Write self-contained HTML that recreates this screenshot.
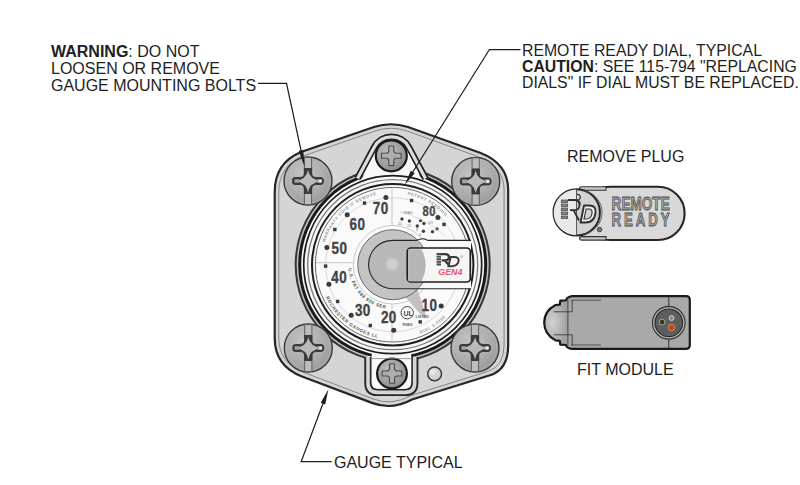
<!DOCTYPE html>
<html><head><meta charset="utf-8">
<style>
html,body{margin:0;padding:0;background:#fff;width:800px;height:485px;overflow:hidden}
svg{display:block}
text{font-family:"Liberation Sans",sans-serif}
</style></head><body>
<svg width="800" height="485" viewBox="0 0 800 485">
<defs>
 <radialGradient id="gScrew" cx="0.4" cy="0.35" r="0.7">
  <stop offset="0" stop-color="#c4c4c4"/><stop offset="0.6" stop-color="#adadad"/><stop offset="1" stop-color="#979797"/>
 </radialGradient>
 <radialGradient id="gSmall" cx="0.4" cy="0.35" r="0.7">
  <stop offset="0" stop-color="#c0c0c0"/><stop offset="1" stop-color="#8a8a8a"/>
 </radialGradient>
 <radialGradient id="gNose" cx="0.35" cy="0.5" r="0.6">
  <stop offset="0" stop-color="#d2d2d2"/><stop offset="1" stop-color="#a2a2a2"/>
 </radialGradient>
 <g id="cross">
  <path d="M-3.6,-23.6 L3.6,-23.6 L3.6,23.6 L-3.6,23.6 Z" fill="#bdbdbd" stroke="#4a4a4a" stroke-width="0.8"/>
  <path d="M-3.6,-12.5 L-3.6,-8 Q-3.6,-3.5 -8.5,-3.5 L-13,-3.5 Q-15.4,-3.5 -15.4,-1.5 L-15.4,1.5 Q-15.4,3.5 -13,3.5 L-8.5,3.5 Q-3.6,3.5 -3.6,8 L-3.6,12.5 L3.6,12.5 L3.6,8 Q3.6,3.5 8.5,3.5 L13,3.5 Q15.5,3.5 15.5,0 Q15.5,-3.5 13,-3.5 L8.5,-3.5 Q3.6,-3.5 3.6,-8 L3.6,-12.5 Z" fill="#3a3a3a" stroke="#333" stroke-width="0.9" stroke-linejoin="round"/>
  <path d="M0,-11 Q1.4,-1.4 13.5,0 Q1.4,1.4 0,11.5 Q-1.4,1.4 -13.2,0 Q-1.4,-1.4 0,-11 Z" fill="#bababa"/>
  <path d="M-13.6,-1.8 L-9,-1.8 L-9,1.8 L-13.6,1.8 Z M9,-1.8 L13.8,-1.8 L13.8,1.8 L9,1.8 Z" fill="#a4a4a4"/>
  <circle cx="12.2" cy="0" r="1.6" fill="#f0f0f0"/>
 </g>
 <g id="scross">
  <path d="M-2.5,-9.8 L2.5,-9.8 L2.5,-5.2 Q2.5,-2.5 5.2,-2.5 L9.8,-2.5 L9.8,2.5 L5.2,2.5 Q2.5,2.5 2.5,5.2 L2.5,9.8 L-2.5,9.8 L-2.5,5.2 Q-2.5,2.5 -5.2,2.5 L-9.8,2.5 L-9.8,-2.5 L-5.2,-2.5 Q-2.5,-2.5 -2.5,-5.2 Z" fill="#adadad" stroke="#4a4a4a" stroke-width="1.1" stroke-linejoin="round"/>
 </g>
</defs>

<g font-size="16" fill="#1e1e1e">
 <text x="51" y="57.3"><tspan font-weight="bold">WARNING</tspan>: DO NOT</text>
 <text x="51" y="74.1">LOOSEN OR REMOVE</text>
 <text x="51" y="90.8">GAUGE MOUNTING BOLTS</text>
 <text font-size="15.8" x="522" y="55.6">REMOTE READY DIAL, TYPICAL</text>
 <text font-size="15.8" x="522" y="72.1"><tspan font-weight="bold">CAUTION</tspan>: SEE 115-794 "REPLACING</text>
 <text font-size="15.8" x="522" y="88.4">DIALS" IF DIAL MUST BE REPLACED.</text>
 <text x="567" y="161.9">REMOVE PLUG</text>
 <text x="577" y="375.4">FIT MODULE</text>
 <text x="334" y="468">GAUGE TYPICAL</text>
</g>

<path d="M274.7,192 Q274.7,163 301,152 L374,127 Q391,121.5 408,127 L480,152.8 Q508.2,163.5 508.2,190 L508.2,345 Q508.2,369.7 490,375.3 L412,399.5 Q392,410.5 372,402.9 L302,376.5 Q274.7,366 274.7,338 Z" fill="#d5d5d5" stroke="#262626" stroke-width="2.2"/>
<path d="M278.8,192 Q278.8,166 303,156 L375,131 Q391,125.5 407,131 L478,156.6 Q504.1,166.5 504.1,190 L504.1,345 Q504.1,366 488,371.4 L411,395.5 Q392,406.3 373,398.9 L304,372.5 Q278.8,363 278.8,338 Z" fill="none" stroke="#7a7a7a" stroke-width="0.9"/>
<circle cx="392.7" cy="264.7" r="97" fill="#c2c2c2" stroke="#363636" stroke-width="2"/>
<path d="M357.50,178.50 L374.22,147.25 A19.6,19.6 0 0 1 408.78,147.25 L425.50,178.50 Z" fill="#f8f8f8" stroke="none"/>
<path d="M368,356 L368,383 Q368,392.4 377.5,392.4 L405,392.4 Q414.7,392.4 414.7,383 L414.7,356 Z" fill="#f8f8f8" stroke="none"/>
<circle cx="392.7" cy="264.7" r="93" fill="#f7f7f7" stroke="#1a1a1a" stroke-width="3"/>
<path d="M357.50,178.50 L374.22,147.25 A19.6,19.6 0 0 1 408.78,147.25 L425.50,178.50" fill="none" stroke="#222" stroke-width="6.8" stroke-linejoin="round"/>
<path d="M357.50,178.50 L374.22,147.25 A19.6,19.6 0 0 1 408.78,147.25 L425.50,178.50" fill="none" stroke="#dedede" stroke-width="3.2" stroke-linejoin="round"/>
<path d="M361.00,180.00 L376.91,149.01 A16.4,16.4 0 0 1 406.09,149.01 L422.00,180.00 Z" fill="#f8f8f8" stroke="none"/>
<path d="M368,357 L368,383 Q368,392.4 377.5,392.4 L405,392.4 Q414.7,392.4 414.7,383 L414.7,357" fill="none" stroke="#262626" stroke-width="7.4" />
<path d="M368,357 L368,383 Q368,392.4 377.5,392.4 L405,392.4 Q414.7,392.4 414.7,383 L414.7,357" fill="none" stroke="#d6d6d6" stroke-width="3.6" />
<path d="M371.7,354 L371.7,382 Q371.7,388.7 378.5,388.7 L404.5,388.7 Q411.3,388.7 411.3,382 L411.3,354 Z" fill="#f8f8f8" stroke="none"/>
<circle cx="392.7" cy="264.7" r="89" fill="#f7f7f7" stroke="#1e1e1e" stroke-width="1.7"/>
<circle cx="392.7" cy="264.7" r="85" fill="none" stroke="#7a7a7a" stroke-width="1.3"/>
<circle cx="392.7" cy="264.7" r="80.7" fill="none" stroke="#1e1e1e" stroke-width="2"/>
<circle cx="392.7" cy="264.7" r="77.3" fill="#fafafa" stroke="#666" stroke-width="1"/>
<g transform="translate(391.3,155.8)"><circle r="15.5" fill="url(#gSmall)" stroke="#1a1a1a" stroke-width="2.2"/><use href="#scross"/></g>
<g transform="translate(392.0,373.5)"><circle r="14.9" fill="url(#gSmall)" stroke="#1a1a1a" stroke-width="2.2"/><use href="#scross"/></g>
<line x1="372" y1="358.6" x2="411" y2="358.6" stroke="#888" stroke-width="0.8"/>
<circle cx="434.6" cy="373.8" r="6.9" fill="#d4d4d4" stroke="#3a3a3a" stroke-width="1.5"/>
<circle cx="433" cy="372" r="3" fill="#e6e6e6"/>
<g transform="translate(308.0,181.0)"><circle r="24" fill="url(#gScrew)" stroke="#3a3a3a" stroke-width="1.4"/><circle r="22" fill="none" stroke="#bdbdbd" stroke-width="0.8" opacity="0.6"/><use href="#cross"/></g>
<g transform="translate(475.7,181.4)"><circle r="24" fill="url(#gScrew)" stroke="#3a3a3a" stroke-width="1.4"/><circle r="22" fill="none" stroke="#bdbdbd" stroke-width="0.8" opacity="0.6"/><use href="#cross"/></g>
<g transform="translate(308.3,348.0)"><circle r="24" fill="url(#gScrew)" stroke="#3a3a3a" stroke-width="1.4"/><circle r="22" fill="none" stroke="#bdbdbd" stroke-width="0.8" opacity="0.6"/><use href="#cross"/></g>
<g transform="translate(475.0,348.0)"><circle r="24" fill="url(#gScrew)" stroke="#3a3a3a" stroke-width="1.4"/><circle r="22" fill="none" stroke="#bdbdbd" stroke-width="0.8" opacity="0.6"/><use href="#cross"/></g>
<line x1="316" y1="262.7" x2="470" y2="262.7" stroke="#b0b0b0" stroke-width="0.7"/>
<line x1="392" y1="188" x2="392" y2="341" stroke="#b0b0b0" stroke-width="0.7"/>
<circle cx="392.7" cy="264.7" r="67" fill="none" stroke="#c8c8c8" stroke-width="0.7"/>
<circle cx="392.7" cy="264.7" r="39.3" fill="#fbfbfb" stroke="#bdbdbd" stroke-width="0.8"/>
<path d="M410,240.4 L471,240.4 L471,288.7 L410,288.7 Z" fill="#f8f8f8" stroke="none"/>
<path d="M405,296.5 L417.5,289.5 L426.5,316.5 L423.5,318 Z" fill="#c2c2c2"/>
<circle cx="392.7" cy="264.7" r="35" fill="#c4c4c4" stroke="#4a4a4a" stroke-width="0.8"/>
<path d="M392.7,240.4 A24.15,24.15 0 0 0 392.7,288.7 L419,288.7 L419,240.4 Z" fill="#b8b8b8"/>
<path d="M392.7,240.4 A24.15,24.15 0 0 0 392.7,288.7 L471,288.7 M392.7,240.4 L416,240.4 Q420,238.6 424,238.8 L428,240.4 L471,240.4" fill="none" stroke="#262626" stroke-width="1.1"/>
<circle cx="392.2" cy="264.2" r="6.5" fill="#c9c9c9"/>
<circle cx="392.2" cy="264.2" r="3" fill="#d2d2d2"/>
<rect x="407.3" y="248" width="63" height="34" rx="3.5" fill="#f6f6f6" stroke="#1e1e1e" stroke-width="1.7"/>
<path d="M408.2,249.2 L421.5,249.2 A35,35 0 0 1 421.5,281.3 L408.2,281.3 Z" fill="#b5b5b5"/>
<g fill="#4a4a4a"><rect x="436.6" y="253" width="4.4" height="2"/><rect x="436.6" y="255.6" width="4.4" height="2"/><rect x="436.6" y="258.2" width="4.4" height="2"/><rect x="436.6" y="260.8" width="4.4" height="2"/><rect x="436.6" y="263.4" width="4.4" height="2.1"/></g>
<path d="M441,254.1 L445.2,254.1 Q449,254.1 449,257.3 Q449,260.3 445.2,260.3 L441.6,260.3 M444.5,260.3 L449.3,265.5" fill="none" stroke="#3a3a3a" stroke-width="2.3"/>
<path d="M450.6,257 L454,257 Q459.5,257 458.5,261.5 Q457.3,266.2 451.5,266.2 L448.5,266.2 Z" fill="none" stroke="#3a3a3a" stroke-width="2"/>
<circle cx="461.7" cy="256.6" r="1.5" fill="#c8c8c8"/>
<text x="438.3" y="275.3" font-size="8.9" font-weight="bold" font-style="italic" fill="#e0586a">GEN4</text>
<text x="0" y="0" font-size="16" font-weight="bold" fill="#444" stroke="#444" stroke-width="0.35" letter-spacing="0.6" transform="translate(372.7,213.9) scale(0.84,1)">70</text>
<text x="0" y="0" font-size="16" font-weight="bold" fill="#444" stroke="#444" stroke-width="0.35" letter-spacing="0.6" transform="translate(349.6,229.5) scale(0.84,1)">60</text>
<text x="0" y="0" font-size="16" font-weight="bold" fill="#444" stroke="#444" stroke-width="0.35" letter-spacing="0.6" transform="translate(331.5,253.5) scale(0.84,1)">50</text>
<text x="0" y="0" font-size="16" font-weight="bold" fill="#444" stroke="#444" stroke-width="0.35" letter-spacing="0.6" transform="translate(331.3,282.8) scale(0.84,1)">40</text>
<text x="0" y="0" font-size="16" font-weight="bold" fill="#444" stroke="#444" stroke-width="0.35" letter-spacing="0.6" transform="translate(354.9,316.3) scale(0.84,1)">30</text>
<text x="0" y="0" font-size="16" font-weight="bold" fill="#444" stroke="#444" stroke-width="0.35" letter-spacing="0.6" transform="translate(380.9,323.4) scale(0.84,1)">20</text>
<text x="0" y="0" font-size="16" font-weight="bold" fill="#444" stroke="#444" stroke-width="0.35" letter-spacing="0.6" transform="translate(421.6,311.0) scale(0.84,1)">10</text>
<text x="0" y="0" font-size="14" font-weight="bold" fill="#4a4a4a" stroke="#4a4a4a" stroke-width="0.35" letter-spacing="0.6" transform="translate(422.5,216.4) scale(0.8,1)">80</text>
<g fill="#3a3a3a"><circle cx="385.9" cy="197.4" r="2.5"/><circle cx="347.2" cy="214.7" r="2.5"/><circle cx="326.9" cy="247.4" r="2.5"/><circle cx="328.9" cy="284.3" r="2.5"/><circle cx="351.2" cy="315.3" r="2.5"/><circle cx="393.7" cy="330.3" r="2.5"/><circle cx="437.9" cy="217.5" r="2.5"/><circle cx="441.2" cy="305.9" r="2.5"/></g>
<g fill="#3a3a3a"><rect x="362.8" y="201.4" width="3.4" height="3.4"/><rect x="333.1" y="227.8" width="3.4" height="3.4"/><rect x="323.90000000000003" y="264.40000000000003" width="3.4" height="3.4"/><rect x="335.90000000000003" y="299.7" width="3.4" height="3.4"/><rect x="368.6" y="323.8" width="3.4" height="3.4"/><rect x="409.90000000000003" y="198.8" width="3.4" height="3.4"/><rect x="442.3" y="222.70000000000002" width="3.4" height="3.4"/><rect x="418.5" y="320.2" width="3.4" height="3.4"/></g>
<defs><path id="tp1" d="M324.70,242.61 A71.5,71.5 0 0 1 375.40,195.32"/><path id="tp2" d="M325.74,297.36 A74.5,74.5 0 0 0 379.76,338.07"/><path id="tp3" d="M348.37,268.58 A44.5,44.5 0 0 0 384.97,308.52"/><path id="tp4" d="M407.57,194.76 A71.5,71.5 0 0 1 455.83,231.13"/><path id="tp5" d="M420.61,333.78 A74.5,74.5 0 0 0 448.06,314.55"/></defs>
<g font-size="4.2" font-weight="bold" fill="#999" letter-spacing="0.6"><text><textPath href="#tp1">WARRANTY VOID IF REMOVED</textPath></text><text fill="#555" font-size="4.6"><textPath href="#tp2">ROCHESTER GAUGES LLC</textPath></text><text fill="#555" font-size="4.6"><textPath href="#tp3">U.S. PAT 888 990 SER 55</textPath></text><text><textPath href="#tp4">PATENT PENDING</textPath></text><text><textPath href="#tp5">DIAL 3-3388</textPath></text></g>
<g fill="#404040"><circle cx="402" cy="219" r="1.7"/><circle cx="409.4" cy="221" r="1.7"/><circle cx="420.6" cy="220.6" r="1.7"/><circle cx="423.9" cy="223.5" r="1.7"/><circle cx="417.3" cy="226" r="1.7"/><circle cx="423.4" cy="231.3" r="1.7"/><circle cx="432.5" cy="231.7" r="1.7"/><circle cx="437" cy="228.9" r="1.7"/></g>
<g font-size="3.6" fill="#777"><text x="403" y="213.5">SEAS</text><text x="398" y="225">25</text><text x="407" y="227">12</text><text x="416" y="231">8</text><text x="419" y="236">4</text><text x="428" y="224">4/1</text></g>
<path d="M400,212 Q420,216 446,236" fill="none" stroke="#c8c8c8" stroke-width="0.6"/>
<circle cx="407.2" cy="312.7" r="6.2" fill="none" stroke="#444" stroke-width="1"/>
<text x="403.5" y="316" font-size="7" fill="#444" font-weight="bold">UL</text>
<text x="415.5" y="318" font-size="3.8" fill="#666" font-weight="bold">LISTED</text>
<text x="402.5" y="325.5" font-size="3.8" fill="#666" font-weight="bold">R9BS</text>
<g stroke="#1e1e1e" stroke-width="1.25" fill="none">
<polyline points="258.00,83.40 286.50,83.40 303.33,161.14"/>
<polyline points="520.50,49.50 489.40,49.50 407.98,179.71"/>
<polyline points="331.60,461.60 301.20,461.60 326.29,394.82"/>
</g>
<path d="M304.60,167.00 L298.75,150.87 L303.25,149.90 Z" fill="#1e1e1e"/>
<path d="M404.80,184.80 L410.80,170.86 L414.70,173.30 Z" fill="#1e1e1e"/>
<path d="M328.40,389.20 L325.20,404.55 L320.70,402.87 Z" fill="#1e1e1e"/>
<g id="plug">
 <path d="M610,186.8 L658,186.8 A26.6,26.6 0 0 1 658,240 L610,240 A26.6,26.6 0 0 1 610,186.8 Z" fill="#d9d9d9" stroke="#262626" stroke-width="2.1"/>
 <rect x="581" y="188" width="30" height="51" fill="#d9d9d9"/>
 <path d="M582,186.8 L606,186.8 L606,190.3 L582,190.3 Q579.5,190.3 579.5,188.5 Q579.5,186.8 582,186.8 Z" fill="#c9c9c9" stroke="#333" stroke-width="1.1"/>
 <path d="M582,236.6 L606,236.6 L606,240.1 L582,240.1 Q579.5,240.1 579.5,238.3 Q579.5,236.6 582,236.6 Z" fill="#c9c9c9" stroke="#333" stroke-width="1.1"/>
 <circle cx="576.7" cy="212.4" r="23.2" fill="#d2d2d2" stroke="#262626" stroke-width="2"/>
 <path d="M576.5,189.6 A22.6,22.6 0 0 0 576.5,235.2 Z" fill="#e9e9e9"/>
 <path d="M583,190.6 A22,22 0 0 1 583,234.2" fill="none" stroke="#555" stroke-width="0.9"/>
 <line x1="576.5" y1="189.5" x2="576.5" y2="235.3" stroke="#4a4a4a" stroke-width="0.9"/>
 <g fill="#888" stroke="#333" stroke-width="0.6">
  <rect x="561.3" y="200" width="6.4" height="2.6"/><rect x="561.3" y="204" width="6.4" height="2.6"/>
  <rect x="561.3" y="208" width="6.4" height="2.6"/><rect x="561.3" y="212" width="6.4" height="2.6"/>
  <rect x="561.3" y="216" width="6.4" height="2.6"/>
 </g>
 <path d="M568,200 L574.5,200 Q579.5,200 579.5,205 Q579.5,209.8 575,210.2 L570,210.2 M573.5,210.2 L579,220.5" fill="none" stroke="#2e2e2e" stroke-width="1.8" stroke-linejoin="round"/>
 <path d="M576.5,194.5 Q580.5,194 580.3,197.5 Q580,200 577,200.3 Q580.5,201 580,204.5" fill="none" stroke="#333" stroke-width="1.2"/>
 <path d="M584,205.5 L589.5,205.5 Q596.5,205.5 595.5,213 Q594.3,222.5 585.5,222.5 L580.5,222.5 Z" fill="#eeeeee" stroke="#2e2e2e" stroke-width="1.9" stroke-linejoin="round"/>
 <path d="M586.2,209 L589,209 Q592.5,209 592,213.5 Q591.2,219 586,219 L584,219 Z" fill="#d2d2d2" stroke="#2e2e2e" stroke-width="1.1"/>
 <circle cx="599.5" cy="229.5" r="2.3" fill="#777" stroke="#333" stroke-width="0.8"/>
 <g font-size="18.5" font-weight="bold" fill="#a6a6a6" stroke="#4a4a4a" stroke-width="0.8">
  <text x="0" y="0" transform="translate(611.6,210.3) scale(0.735,1)">REMOTE</text>
  <text x="0" y="0" letter-spacing="4.0" transform="translate(611.6,226.2) scale(0.72,1)">READY</text>
 </g>
</g>

<g id="module">
 <path id="modout" d="M572,296.2 L686,296.2 Q689.8,296.2 689.8,300 L689.8,345 Q689.8,348.9 686,348.9 L572,348.9 Q567,348.6 566,345 L560.3,344.7 L559.8,340.8 L555.5,340.4 Q544.2,334.4 544.2,322.6 Q544.2,311 555.5,305 L559.8,304.6 L560.3,300.7 L566,300.3 Q567,297 572,296.2 Z" fill="#a9a9a9"/>
 <path d="M568,300.3 L560.3,300.7 L559.8,304.6 L555.5,305 Q544.2,311 544.2,322.6 Q544.2,334.4 555.5,340.4 L559.8,340.8 L560.3,344.7 L568,345 Z" fill="url(#gNose)"/>
 <path d="M572,296.2 L686,296.2 Q689.8,296.2 689.8,300 L689.8,345 Q689.8,348.9 686,348.9 L572,348.9 Q567,348.6 566,345 L560.3,344.7 L559.8,340.8 L555.5,340.4 Q544.2,334.4 544.2,322.6 Q544.2,311 555.5,305 L559.8,304.6 L560.3,300.7 L566,300.3 Q567,297 572,296.2 Z" fill="none" stroke="#1a1a1a" stroke-width="2.2" stroke-linejoin="round"/>
 <path d="M553.8,311.8 L572.2,311.8 L572.2,300.5 M553.8,334.8 L572.2,334.8 L572.2,345" fill="none" stroke="#3a3a3a" stroke-width="0.9"/>
 <line x1="567.9" y1="300" x2="567.9" y2="345.5" stroke="#3a3a3a" stroke-width="0.9"/>
 <path d="M571,300.2 L601,300.2 M571,345 L601,345" stroke="#4a4a4a" stroke-width="0.9"/>
 <line x1="668.8" y1="296.5" x2="668.8" y2="348.5" stroke="#333" stroke-width="1"/>
 <circle cx="668.8" cy="322.8" r="16.3" fill="#bdbdbd" stroke="#3a3a3a" stroke-width="1.3"/>
 <circle cx="668.8" cy="322.8" r="13.8" fill="#5e5e5e" stroke="#2a2a2a" stroke-width="1.2"/>
 <circle cx="662.1" cy="322.1" r="2.9" fill="#2e3a22" stroke="#b8c0a8" stroke-width="0.8"/>
 <circle cx="671.5" cy="318.1" r="2.4" fill="#7a8a8a" stroke="#cfe0e0" stroke-width="0.9"/>
 <circle cx="671.5" cy="327.5" r="3.3" fill="#c4441e" stroke="#e09070" stroke-width="0.8"/>
</g>

</svg>
</body></html>
